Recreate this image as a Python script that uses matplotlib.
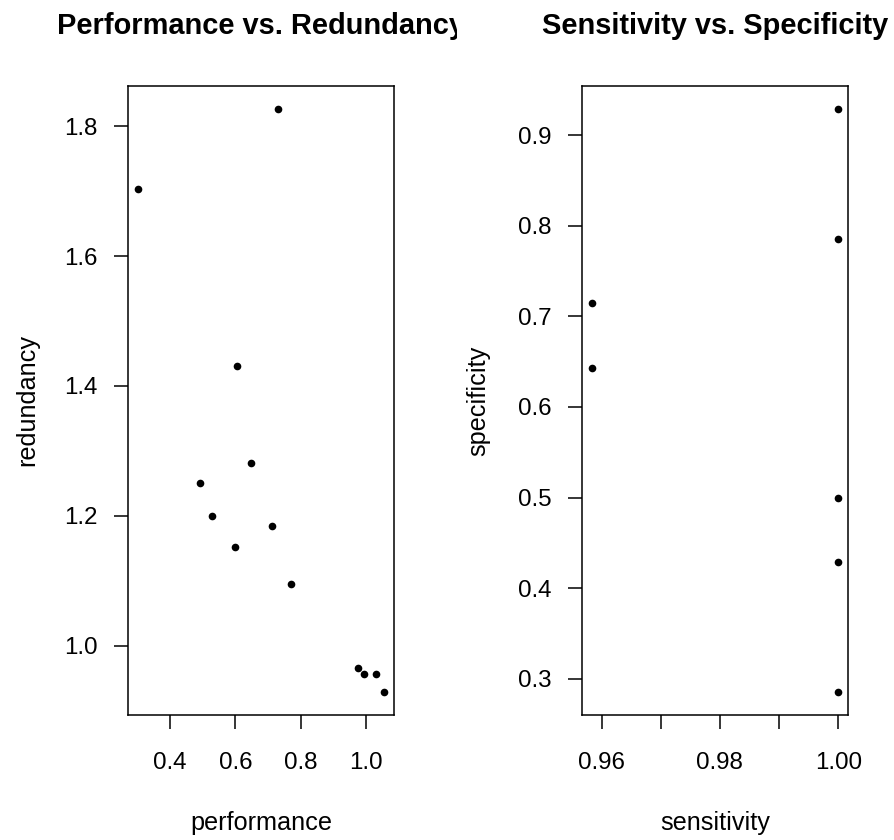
import matplotlib
matplotlib.use("Agg")
import matplotlib.pyplot as plt
from matplotlib.transforms import Bbox, TransformedBbox
import numpy as np

# ---- data ----
performance = [0.302, 0.732, 0.604, 0.649, 0.493, 0.530, 0.711, 0.599, 0.771, 0.976, 0.992, 1.031, 1.056]
redundancy = [1.703, 1.826, 1.431, 1.282, 1.250, 1.199, 1.184, 1.152, 1.095, 0.966, 0.956, 0.956, 0.929]

sensitivity = [1.0, 1.0, 0.9583, 0.9583, 1.0, 1.0, 1.0]
specificity = [0.9286, 0.7857, 0.7143, 0.6429, 0.5, 0.4286, 0.2857]

perf_ticks = [0.4, 0.6, 0.8, 1.0]
perf_labels = ["0.4", "0.6", "0.8", "1.0"]
red_ticks = [1.0, 1.2, 1.4, 1.6, 1.8]
red_labels = ["1.0", "1.2", "1.4", "1.6", "1.8"]
sens_ticks = [0.96, 0.97, 0.98, 0.99, 1.00]
sens_labels = ["0.96", "", "0.98", "", "1.00"]
spec_ticks = [0.3, 0.4, 0.5, 0.6, 0.7, 0.8, 0.9]
spec_labels = ["0.3", "0.4", "0.5", "0.6", "0.7", "0.8", "0.9"]

titles = ["Performance vs. Redundancy", "Sensitivity vs. Specificity"]
xlabels = ["performance", "sensitivity"]
ylabels = ["redundancy", "specificity"]

plt.rcParams['font.family'] = ['Liberation Sans', 'DejaVu Sans']

W, H = 894, 840
fig = plt.figure(figsize=(W / 100, H / 100), dpi=100)
fig.patch.set_facecolor("white")


def rlim(v):
    lo, hi = min(v), max(v)
    r = hi - lo
    return lo - 0.04 * r, hi + 0.04 * r


panels = [
    dict(left=128, x=performance, y=redundancy, xt=perf_ticks, xl=perf_labels,
         yt=red_ticks, yl=red_labels),
    dict(left=581.7, x=sensitivity, y=specificity, xt=sens_ticks, xl=sens_labels,
         yt=spec_ticks, yl=spec_labels),
]

top_px, bot_px, w_px = 86, 715, 266.3
fs = 17.4
lfs = 18.2
clip_px = [(0, 457), (457, W)]
for i, p in enumerate(panels):
    ax = fig.add_axes([p["left"] / W, 1 - bot_px / H, w_px / W, (bot_px - top_px) / H])
    ax.plot(p["x"], p["y"], 'o', color='black', markersize=5.5, markeredgewidth=0)
    ax.set_xlim(*rlim(p["x"]))
    ax.set_ylim(*rlim(p["y"]))
    ax.set_xticks(p["xt"])
    ax.set_xticklabels(p["xl"])
    ax.set_yticks(p["yt"])
    ax.set_yticklabels(p["yl"])
    for s in ax.spines.values():
        s.set_linewidth(1.1)
        s.set_color('black')
    ax.tick_params(axis='both', length=10.4, width=1.1, color='black',
                   labelsize=fs, labelcolor='black', direction='out')
    ax.tick_params(axis='x', pad=16)
    ax.tick_params(axis='y', pad=11.5)
    ax.set_xlabel(xlabels[i], fontsize=lfs, va='baseline')
    ax.xaxis.set_label_coords(0.5, -(830 - bot_px) / (bot_px - top_px))
    ax.set_ylabel(ylabels[i], fontsize=lfs, va='center')
    ylx = 27 if i == 0 else 478
    ax.yaxis.set_label_coords((ylx - p["left"]) / w_px, 0.5)

    cx = p["left"] + w_px / 2
    t = fig.text(cx / W, 1 - 34 / H, titles[i], ha='center', va='baseline',
                 fontsize=20.9, fontweight='bold', color='black')
    region = Bbox([[clip_px[i][0] / W, 0], [clip_px[i][1] / W, 1]])
    t.set_clip_box(TransformedBbox(region, fig.transFigure))
    t.set_clip_on(True)

fig.savefig("out.png", dpi=100, facecolor="white")
